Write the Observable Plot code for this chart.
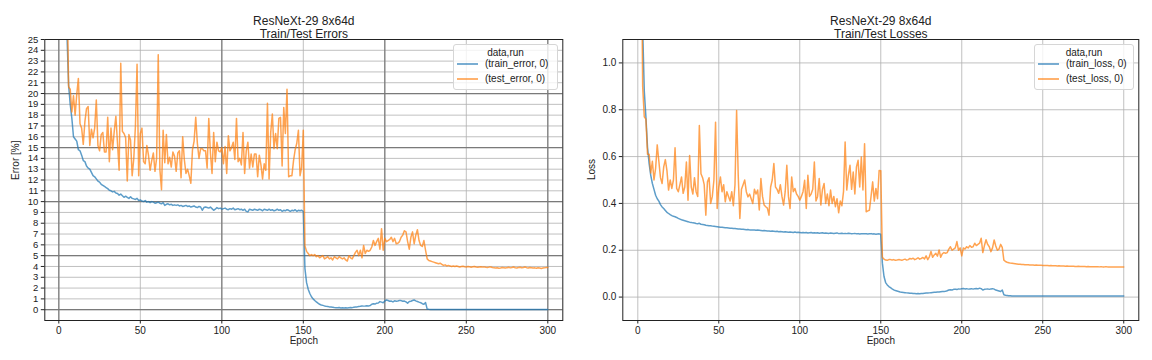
<!DOCTYPE html>
<html><head><meta charset="utf-8">
<script src="https://cdn.jsdelivr.net/npm/d3@7"></script>
<script src="https://cdn.jsdelivr.net/npm/@observablehq/plot@0.6"></script>
<style>
body{margin:0;background:#fff;}
#wrap{position:relative;width:1152px;height:360px;font-family:'Liberation Sans',Arial,sans-serif;color:#222;}
.panel{position:absolute;top:0;width:576px;height:360px;}
.legend{position:absolute;background:rgba(255,255,255,0.8);border:1px solid #d6d6d6;border-radius:3px;font-size:10px;box-sizing:border-box;}
.legend .lt{position:absolute;left:0;right:0;text-align:center;line-height:12px;}
.legend .sw{position:absolute;height:0;border-top:2px solid;opacity:0.6;}
.legend .li{position:absolute;line-height:12px;white-space:nowrap;}
</style>
</head><body>
<div id="wrap"></div>
<script>
const FONT = "'Liberation Sans',Arial,sans-serif";
const epochs = Array.from({length: 300}, (_, i) => i + 1);

const trainError = [
75,55,40,30,25.5,20.8,19.0,17.7,16.0,15.8,
15.6,14.8,14.7,14.3,13.8,13.7,13.3,13.1,13.0,12.7,
12.4,12.3,12.1,11.9,11.8,11.6,11.5,11.4,11.3,11.2,
11.05,11.0,10.9,10.95,10.8,10.75,10.6,10.7,10.55,10.4,
10.5,10.4,10.3,10.45,10.3,10.25,10.2,10.3,10.1,10.15,
10.05,10.0,10.1,9.95,10.0,9.9,10.0,9.95,9.85,9.9,
9.95,9.85,9.8,9.9,9.65,9.75,9.8,9.7,9.75,9.65,
9.7,9.65,9.7,9.6,9.65,9.55,9.6,9.65,9.55,9.6,
9.5,9.55,9.6,9.5,9.45,9.55,9.5,9.2,9.45,9.5,
9.45,9.4,9.5,9.35,9.2,9.3,9.45,9.35,9.4,9.3,
9.35,9.4,9.3,9.25,9.35,9.3,9.4,9.25,9.3,9.35,
9.25,9.3,9.2,9.3,9.1,9.05,9.3,9.25,9.2,9.3,
9.25,9.2,9.3,9.25,9.15,9.3,9.25,9.2,9.3,9.2,
9.25,9.15,9.2,9.3,9.2,9.25,9.1,9.2,9.15,9.25,
9.2,9.1,9.2,9.15,9.25,9.1,9.2,9.15,9.2,9.1,
3.8,2.5,1.9,1.5,1.2,1.0,0.85,0.72,0.6,0.5,
0.44,0.4,0.35,0.32,0.3,0.26,0.24,0.22,0.2,0.19,
0.18,0.2,0.16,0.18,0.15,0.17,0.16,0.18,0.2,0.19,
0.22,0.24,0.26,0.3,0.32,0.35,0.33,0.34,0.36,0.35,
0.38,0.5,0.55,0.52,0.6,0.62,0.75,0.7,0.65,0.8,
0.9,0.85,0.78,0.8,0.72,0.82,0.78,0.8,0.86,0.84,
0.78,0.8,0.72,0.6,0.75,0.78,0.85,0.9,0.82,0.76,
0.7,0.65,0.55,0.5,0.66,0.05,0.03,0.02,0.015,0.012,
0.01,0.01,0.02,0.01,0.01,0.01,0.02,0.01,0.01,0.01,
0.01,0.01,0.01,0.02,0.01,0.01,0.01,0.01,0.01,0.01,
0.01,0.02,0.01,0.01,0.01,0.01,0.01,0.02,0.01,0.01,
0.01,0.01,0.01,0.01,0.02,0.01,0.01,0.01,0.01,0.01,
0.01,0.01,0.02,0.01,0.01,0.01,0.01,0.01,0.01,0.02,
0.01,0.01,0.01,0.01,0.01,0.02,0.01,0.01,0.01,0.01,
0.01,0.01,0.01,0.01,0.01,0.01,0.01,0.01,0.01,0.01
];

const testError = [
70,55,45,38,31,20.6,20.4,18.3,19.8,18.0,
19.9,21.4,17.2,16.8,15.3,17.4,18.6,18.8,15.2,16.7,
15.9,16.8,19.4,15.2,14.7,16.2,16.4,14.6,14.6,17.8,
13.7,16.8,14.8,16.5,17.9,15.4,12.9,22.8,16.5,16.3,
15.9,11.9,16.2,15.7,12.4,14.0,17.0,22.7,12.4,16.3,
16.8,13.7,13.5,15.2,14.3,12.9,13.8,14.5,12.8,14.0,
23.6,13.0,11.1,16.6,13.6,16.2,13.5,14.1,13.2,14.6,
14.2,12.8,14.5,14.7,12.2,16.0,13.9,12.6,13.0,12.4,
11.7,14.8,15.6,17.8,15.4,14.0,14.9,14.9,14.7,14.7,
13.1,17.7,14.5,12.6,16.4,13.7,15.5,14.7,14.6,15.0,
13.5,15.1,12.6,16.1,14.7,15.0,15.5,13.9,17.7,13.7,
14.0,13.4,16.4,12.6,14.7,15.5,13.1,14.4,13.2,14.4,
14.4,12.3,14.3,13.4,12.1,13.5,12.9,19.1,12.1,16.4,
18.1,14.9,16.3,14.9,17.7,17.8,13.3,18.7,16.3,20.4,
12.3,12.4,12.4,13.8,14.8,15.4,16.6,12.4,13.2,16.6,
5.9,5.4,5.2,5.0,5.1,5.0,5.1,4.9,5.0,4.8,
4.9,5.0,4.7,4.8,4.9,4.7,4.8,4.6,4.9,4.8,
4.7,4.9,4.8,4.7,4.8,4.6,4.5,5.0,4.8,4.7,
5.0,5.3,5.5,5.0,5.5,4.8,5.95,5.2,5.5,5.4,
5.5,5.8,6.4,5.95,6.3,6.6,5.6,7.5,5.5,6.6,
6.3,6.4,6.5,6.7,6.3,6.6,6.1,6.15,6.3,6.7,
6.9,7.3,7.2,6.3,5.6,6.7,7.2,6.1,6.9,7.4,
6.4,5.95,5.85,6.4,5.5,4.7,4.55,4.5,4.45,4.4,
4.35,4.3,4.25,4.3,4.2,4.1,4.15,4.05,4.1,4.05,
4.0,4.05,4.0,4.05,4.0,3.95,4.0,4.02,3.98,3.95,
4.0,3.97,3.93,3.97,4.0,3.95,3.92,3.95,3.98,3.94,
3.96,3.92,3.9,3.94,3.95,3.9,3.87,3.85,3.88,3.84,
3.86,3.9,3.88,3.85,3.89,3.92,3.87,3.9,3.95,3.88,
3.86,3.9,3.93,3.88,3.91,3.95,3.89,3.86,3.9,3.88,
3.85,3.87,3.84,3.88,3.86,3.82,3.85,3.87,3.9,3.91
];

const trainLoss = [
2.3,1.6,1.15,0.88,0.77,0.64,0.57,0.52,0.485,0.46,
0.435,0.42,0.41,0.395,0.385,0.378,0.37,0.362,0.357,0.352,
0.348,0.345,0.343,0.34,0.336,0.333,0.33,0.328,0.326,0.324,
0.322,0.32,0.319,0.317,0.316,0.314,0.313,0.315,0.311,0.31,
0.309,0.307,0.306,0.305,0.305,0.303,0.302,0.301,0.3,0.299,
0.298,0.298,0.297,0.296,0.296,0.295,0.294,0.294,0.293,0.293,
0.292,0.291,0.291,0.29,0.29,0.289,0.288,0.289,0.287,0.287,
0.286,0.286,0.285,0.286,0.285,0.284,0.283,0.284,0.283,0.282,
0.282,0.281,0.282,0.281,0.28,0.281,0.279,0.28,0.279,0.278,
0.279,0.278,0.277,0.278,0.277,0.276,0.278,0.276,0.277,0.276,
0.275,0.276,0.275,0.276,0.274,0.275,0.276,0.274,0.275,0.274,
0.275,0.273,0.274,0.275,0.273,0.274,0.273,0.272,0.274,0.273,
0.272,0.273,0.274,0.271,0.272,0.273,0.271,0.272,0.271,0.273,
0.272,0.27,0.271,0.272,0.27,0.271,0.269,0.27,0.271,0.27,
0.27,0.269,0.27,0.271,0.269,0.27,0.268,0.269,0.27,0.268,
0.145,0.088,0.062,0.052,0.045,0.04,0.035,0.031,0.028,0.026,
0.024,0.022,0.021,0.02,0.019,0.018,0.017,0.016,0.016,0.015,
0.015,0.014,0.015,0.014,0.015,0.015,0.016,0.017,0.017,0.018,
0.019,0.02,0.021,0.021,0.022,0.022,0.023,0.024,0.024,0.025,
0.027,0.03,0.031,0.03,0.033,0.034,0.032,0.035,0.034,0.036,
0.037,0.035,0.036,0.034,0.035,0.036,0.034,0.036,0.037,0.035,
0.038,0.036,0.03,0.033,0.034,0.035,0.033,0.035,0.036,0.034,
0.03,0.028,0.026,0.024,0.03,0.01,0.008,0.007,0.006,0.006,
0.005,0.005,0.005,0.005,0.005,0.005,0.005,0.005,0.005,0.005,
0.005,0.005,0.005,0.005,0.005,0.005,0.005,0.005,0.005,0.005,
0.005,0.005,0.005,0.005,0.005,0.005,0.005,0.005,0.005,0.005,
0.005,0.005,0.005,0.005,0.005,0.005,0.005,0.005,0.005,0.005,
0.005,0.005,0.005,0.005,0.005,0.005,0.005,0.005,0.005,0.005,
0.005,0.005,0.005,0.005,0.005,0.005,0.005,0.005,0.005,0.005,
0.005,0.005,0.005,0.005,0.005,0.005,0.005,0.005,0.005,0.005
];

const testLoss = [
2.5,1.7,0.9,0.77,0.76,0.61,0.61,0.53,0.58,0.50,
0.55,0.65,0.58,0.51,0.485,0.556,0.587,0.54,0.457,0.50,
0.464,0.50,0.638,0.464,0.45,0.48,0.513,0.443,0.47,0.577,
0.414,0.605,0.47,0.44,0.51,0.45,0.43,0.733,0.527,0.51,
0.48,0.35,0.492,0.51,0.40,0.43,0.50,0.747,0.378,0.47,
0.513,0.45,0.48,0.407,0.45,0.43,0.41,0.45,0.39,0.48,
0.797,0.52,0.336,0.46,0.48,0.50,0.45,0.428,0.44,0.42,
0.40,0.46,0.44,0.457,0.372,0.506,0.43,0.393,0.386,0.38,
0.35,0.47,0.50,0.57,0.47,0.46,0.443,0.48,0.43,0.393,
0.45,0.563,0.43,0.378,0.513,0.45,0.464,0.44,0.43,0.414,
0.43,0.45,0.499,0.378,0.52,0.43,0.44,0.46,0.577,0.41,
0.43,0.506,0.393,0.46,0.485,0.40,0.44,0.39,0.457,0.40,
0.43,0.386,0.42,0.36,0.41,0.39,0.45,0.662,0.457,0.52,
0.563,0.46,0.534,0.44,0.556,0.584,0.47,0.598,0.457,0.655,
0.364,0.368,0.371,0.43,0.492,0.41,0.464,0.42,0.541,0.54,
0.17,0.162,0.158,0.157,0.16,0.16,0.158,0.16,0.157,0.158,
0.16,0.159,0.157,0.16,0.162,0.158,0.16,0.165,0.163,0.166,
0.16,0.163,0.168,0.162,0.165,0.169,0.163,0.176,0.16,0.172,
0.195,0.17,0.18,0.187,0.175,0.201,0.17,0.185,0.19,0.187,
0.19,0.205,0.215,0.2,0.205,0.21,0.237,0.2,0.21,0.176,
0.21,0.205,0.215,0.21,0.22,0.213,0.215,0.23,0.22,0.225,
0.23,0.251,0.19,0.22,0.245,0.225,0.215,0.194,0.21,0.244,
0.218,0.2,0.205,0.225,0.212,0.158,0.152,0.149,0.147,0.145,
0.144,0.143,0.142,0.141,0.14,0.14,0.139,0.139,0.138,0.138,
0.138,0.137,0.137,0.137,0.136,0.137,0.136,0.136,0.136,0.135,
0.135,0.135,0.135,0.134,0.135,0.134,0.134,0.134,0.133,0.134,
0.133,0.133,0.133,0.132,0.133,0.132,0.132,0.132,0.132,0.131,
0.131,0.132,0.131,0.131,0.131,0.131,0.13,0.131,0.13,0.13,
0.13,0.13,0.13,0.13,0.129,0.13,0.129,0.129,0.13,0.129,
0.129,0.129,0.129,0.128,0.129,0.128,0.128,0.128,0.128,0.128
];

const errSeries = ["(train_error, 0)", "(test_error, 0)"];
const lossSeries = ["(train_loss, 0)", "(test_loss, 0)"];
const seriesColors = ["#1f77b4", "#ff7f0e"];
const legendTitle = "data,run";
const titleLine1 = "ResNeXt-29 8x64d";
const errTitle = "Train/Test Errors";
const lossTitle = "Train/Test Losses";
const xTicks = [0, 50, 100, 150, 200, 250, 300];
const xMajor = [0, 100, 200, 300];
const errYTicks = [0,1,2,3,4,5,6,7,8,9,10,11,12,13,14,15,16,17,18,19,20,21,22,23,24,25];
const errYMajor = [0, 5, 10, 15, 20, 25];
const lossYTicks = [0.0, 0.2, 0.4, 0.6, 0.8, 1.0];

function rowsFor(a, b, names) {
  return epochs.flatMap((e, i) => [
    {epoch: e, value: a[i], series: names[0]},
    {epoch: e, value: b[i], series: names[1]}
  ]);
}

function makePanel(o) {
  return Plot.plot({
    width: 576, height: 360,
    marginLeft: o.ml, marginRight: o.mr, marginTop: 39, marginBottom: 40,
    x: {domain: o.xDomain},
    y: {domain: o.yDomain},
    color: {domain: o.series, range: seriesColors},
    style: {fontFamily: FONT, fontSize: "10px", color: "#222", background: "white", overflow: "visible"},
    marks: [
      Plot.ruleY(o.yTicks, {stroke: "#b0b0b0", strokeWidth: 0.8}),
      Plot.ruleX(xTicks, {stroke: "#b0b0b0", strokeWidth: 0.8}),
      o.majorY ? Plot.ruleY(o.majorY, {stroke: "#7a7a7a", strokeWidth: 1.2}) : null,
      o.majorX ? Plot.ruleX(o.majorX, {stroke: "#7a7a7a", strokeWidth: 1.2}) : null,
      Plot.line(o.rows, {x: "epoch", y: "value", stroke: "series", strokeWidth: 1.5, strokeOpacity: 0.72, clip: true}),
      Plot.frame({stroke: "#222", strokeWidth: 1}),
      Plot.axisX({ticks: xTicks, tickSize: 3.5, tickPadding: 3, label: null, stroke: "#222", fontSize: 10}),
      Plot.axisY({ticks: o.yTicks, tickSize: 3.5, tickPadding: 3, label: null, tickFormat: o.fmt, stroke: "#222", fontSize: o.yFont}),
      Plot.text([titleLine1], {text: d => d, frameAnchor: "top", dy: -23, fontSize: 12, fill: "#222"}),
      Plot.text([o.title2], {text: d => d, frameAnchor: "top", dy: -10, fontSize: 12, fill: "#222"}),
      Plot.text(["Epoch"], {text: d => d, frameAnchor: "bottom", dy: 23.5, fontSize: 10, fill: "#222"}),
      Plot.text([o.yLabel], {text: d => d, frameAnchor: "left", dx: -o.ml + 15, rotate: -90, fontSize: 10, fill: "#222"})
    ]
  });
}

function makeLegend(names, box) {
  const lg = document.createElement("div");
  lg.className = "legend";
  Object.assign(lg.style, {left: box.x + "px", top: box.y + "px", width: box.w + "px", height: box.h + "px"});
  let html = `<div class="lt" style="top:2px">${legendTitle}</div>`;
  names.forEach((n, i) => {
    const cy = 19 + i * 15;
    html += `<div class="sw" style="left:3px;width:21px;top:${cy - 1}px;border-color:${seriesColors[i]}"></div>`;
    html += `<div class="li" style="left:31px;top:${cy - 6}px">${n}</div>`;
  });
  lg.innerHTML = html;
  return lg;
}

const wrap = document.getElementById("wrap");

const left = document.createElement("div");
left.className = "panel"; left.style.left = "0px";
left.appendChild(makePanel({
  rows: rowsFor(trainError, testError, errSeries), series: errSeries,
  ml: 44.3, mr: 13.7, xDomain: [-8.6, 309.2], yDomain: [-1, 25],
  yTicks: errYTicks, majorY: errYMajor, majorX: xMajor, yFont: 9.5,
  fmt: d => String(d), yLabel: "Error [%]", title2: errTitle
}));
wrap.appendChild(left);

const right = document.createElement("div");
right.className = "panel"; right.style.left = "576px";
right.appendChild(makePanel({
  rows: rowsFor(trainLoss, testLoss, lossSeries), series: lossSeries,
  ml: 46.3, mr: 13.7, xDomain: [-9.26, 309.3], yDomain: [-0.1, 1.1],
  yTicks: lossYTicks, majorY: null, majorX: null, yFont: 10,
  fmt: d => d.toFixed(1), yLabel: "Loss", title2: lossTitle
}));
wrap.appendChild(right);

wrap.appendChild(makeLegend(errSeries, {x: 453, y: 44, w: 105, h: 46}));
wrap.appendChild(makeLegend(lossSeries, {x: 1034, y: 44, w: 100, h: 46}));
</script>
</body></html>
